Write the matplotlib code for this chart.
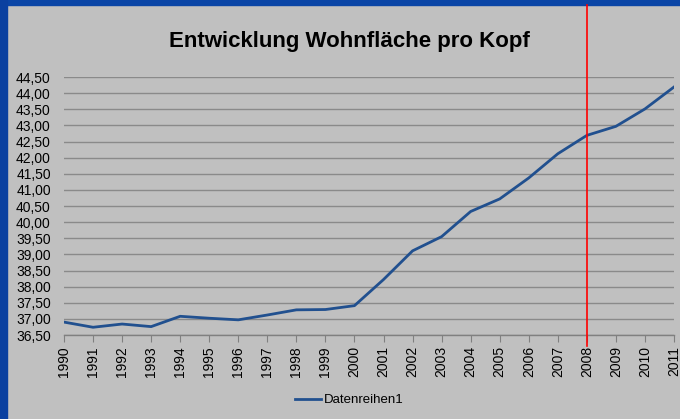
import matplotlib
matplotlib.use("Agg")
import matplotlib.pyplot as plt
from matplotlib.patches import Rectangle
from matplotlib.lines import Line2D
from matplotlib.transforms import blended_transform_factory

years = [str(y) for y in range(1990, 2012)]
values = [36.90, 36.74, 36.84, 36.76, 37.08, 37.02, 36.97, 37.12, 37.28, 37.29,
          37.41, 38.22, 39.11, 39.55, 40.33, 40.72, 41.37, 42.12, 42.69, 42.97,
          43.51, 44.19]
yticks = [36.5 + 0.5 * i for i in range(17)]
marker_year = "2008"
title = "Entwicklung Wohnfläche pro Kopf"
series_name = "Datenreihen1"

plt.rcParams['font.family'] = ['Liberation Sans', 'DejaVu Sans']

fig = plt.figure(figsize=(6.8, 4.19), dpi=100)
fig.patch.set_facecolor('#c0c0c0')

# blue frame (top and left)
fig.patches.append(Rectangle((0, 1 - 5/419), 1, 5/419, transform=fig.transFigure,
                             color='#0a45a6', zorder=0))
fig.patches.append(Rectangle((0, 0), 7/680, 1, transform=fig.transFigure,
                             color='#0a40a0', zorder=0))

ax = fig.add_axes([64/680, 1 - 335/419, 610/680, (335 - 77)/419])
ax.set_facecolor('#c0c0c0')
x = list(range(len(years)))
ax.plot(x, values, color='#21508f', lw=2.0, label=series_name, zorder=3)
ax.set_xlim(0, len(years) - 1)
ax.set_ylim(36.5, 44.5)
ax.set_yticks(yticks)
ax.set_yticklabels([f"{v:.2f}".replace('.', ',') for v in yticks], fontsize=10)
ax.set_xticks(x)
ax.set_xticklabels(years, rotation=90, fontsize=10)
ax.grid(axis='y', color='#8a8a8a', lw=1.0)
ax.set_axisbelow(True)
for s in ['left', 'right', 'top']:
    ax.spines[s].set_visible(False)
ax.spines['bottom'].set_color('#808080')
ax.spines['bottom'].set_linewidth(1.0)
ax.tick_params(axis='y', length=0, pad=9.5)
ax.tick_params(axis='x', length=5, color='#808080', pad=3)

# red marker line
xi = years.index(marker_year)
tr = blended_transform_factory(ax.transData, fig.transFigure)
fig.lines.append(Line2D([xi, xi], [1 - 346/419, 1 - 5/419], transform=tr,
                        color='#ff0000', lw=1.2, zorder=5))

fig.text(349/680, 1 - 41/419, title, ha='center', va='center',
         fontsize=16, fontweight='bold')

fig.legend(loc='center', bbox_to_anchor=(349/680, 1 - 400/419), frameon=False,
           fontsize=9.5, handlelength=2.0, handletextpad=0.2)

fig.savefig('out.png', dpi=100, facecolor=fig.get_facecolor())
